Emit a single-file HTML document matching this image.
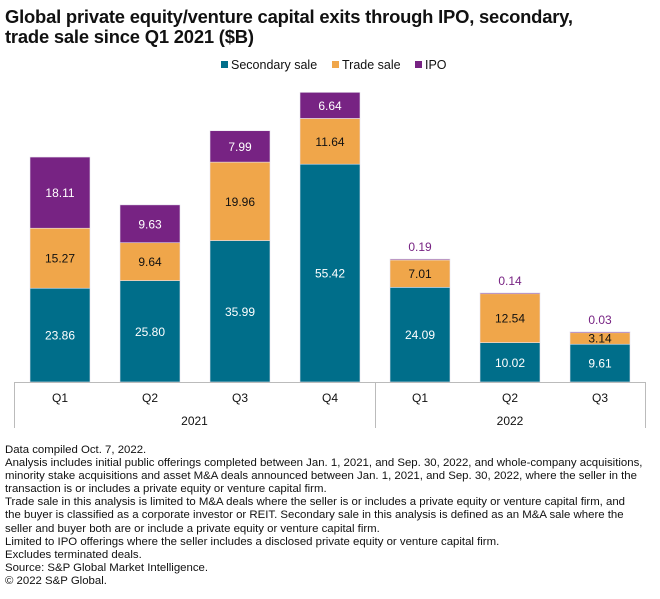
<!DOCTYPE html>
<html><head><meta charset="utf-8">
<style>
body{margin:0;background:#fff;width:660px;height:599px;overflow:hidden;font-family:"Liberation Sans",sans-serif;}
#title{position:absolute;left:5px;top:7px;font-size:18.4px;font-weight:bold;line-height:20px;color:#111;letter-spacing:-0.2px;}
#notes{position:absolute;left:5px;top:444px;font-size:11.4px;line-height:13.1px;color:#111;letter-spacing:0px;white-space:nowrap;}
</style></head><body>
<div id="title">Global private equity/venture capital exits through IPO, secondary,<br>trade sale since Q1 2021 ($B)</div>
<svg id="chart" width="660" height="440" style="position:absolute;left:0;top:0"></svg>
<div id="notes">Data compiled Oct. 7, 2022.<br>Analysis includes initial public offerings completed between Jan. 1, 2021, and Sep. 30, 2022, and whole-company acquisitions,<br>minority stake acquisitions and asset M&amp;A deals announced between Jan. 1, 2021, and Sep. 30, 2022, where the seller in the<br>transaction is or includes a private equity or venture capital firm.<br>Trade sale in this analysis is limited to M&amp;A deals where the seller is or includes a private equity or venture capital firm, and<br>the buyer is classified as a corporate investor or REIT. Secondary sale in this analysis is defined as an M&amp;A sale where the<br>seller and buyer both are or include a private equity or venture capital firm.<br>Limited to IPO offerings where the seller includes a disclosed private equity or venture capital firm.<br>Excludes terminated deals.<br>Source: S&amp;P Global Market Intelligence.<br>© 2022 S&amp;P Global.</div>
<script>
const categories=["Q1","Q2","Q3","Q4","Q1","Q2","Q3"];
const years=["2021","2022"];
const secondary=[23.86,25.80,35.99,55.42,24.09,10.02,9.61];
const trade=[15.27,9.64,19.96,11.64,7.01,12.54,3.14];
const ipo=[18.11,9.63,7.99,6.64,0.19,0.14,0.03];
const seriesNames=["Secondary sale","Trade sale","IPO"];
const colors=["#006e8a","#f0a64a","#772383"];
const NS="http://www.w3.org/2000/svg";
const svg=document.getElementById('chart');
const base=382, k=3.93, x0=30, step=90, bw=60;
function y(v){return base-v*k;}
function xc(i){return x0+i*step;}
function el(t,a,p){const e=document.createElementNS(NS,t);for(const n in a)e.setAttribute(n,a[n]);(p||svg).appendChild(e);return e;}
const lx=[221,332,415];
seriesNames.forEach((n,i)=>{
 const g=el('g',{});
 
 
 el('rect',{x:lx[i],y:61,width:7,height:7,fill:colors[i]},g);
 const t=el('text',{x:lx[i]+10,y:69,'font-size':12.5,fill:'#111'},g);t.textContent=n;
});
const data=[secondary,trade,ipo];
categories.forEach((c,i)=>{
 let acc=0;
 data.forEach((s,j)=>{
  const v=s[i];
  const r=el('rect',{x:xc(i),y:y(acc+v),width:bw,height:Math.max(v*k,1),fill:colors[j],stroke:'#e8e4ee','stroke-width':0.6});
  
  
  const small=v*k<10;
  const ty=small?y(acc+v)-8:y(acc+v/2)+4.5;
  const t=el('text',{x:xc(i)+bw/2,y:ty,'text-anchor':'middle','font-size':12,fill:small?colors[j]:(j==1?'#111':'#fff')});
  if(small&&j==1){t.setAttribute('y',y(acc+v/2)+4.5);t.setAttribute('fill','#111');}
  t.textContent=v.toFixed(2);
  
  
  acc+=v;
 });
 const t=el('text',{x:xc(i)+bw/2,y:402,'text-anchor':'middle','font-size':12,fill:'#111'});t.textContent=c;
 
 
});
el('line',{x1:14,y1:382.5,x2:645,y2:382.5,stroke:'#bbb'});
[14,375,645].forEach(xx=>el('line',{x1:xx+0.5,y1:382,x2:xx+0.5,y2:428,stroke:'#bbb'}));
[[years[0],194.5],[years[1],510]].forEach(([yr,xx])=>{const t=el('text',{x:xx,y:425,'text-anchor':'middle','font-size':12,fill:'#111'});t.textContent=yr;
 
 });
</script>
</body></html>
